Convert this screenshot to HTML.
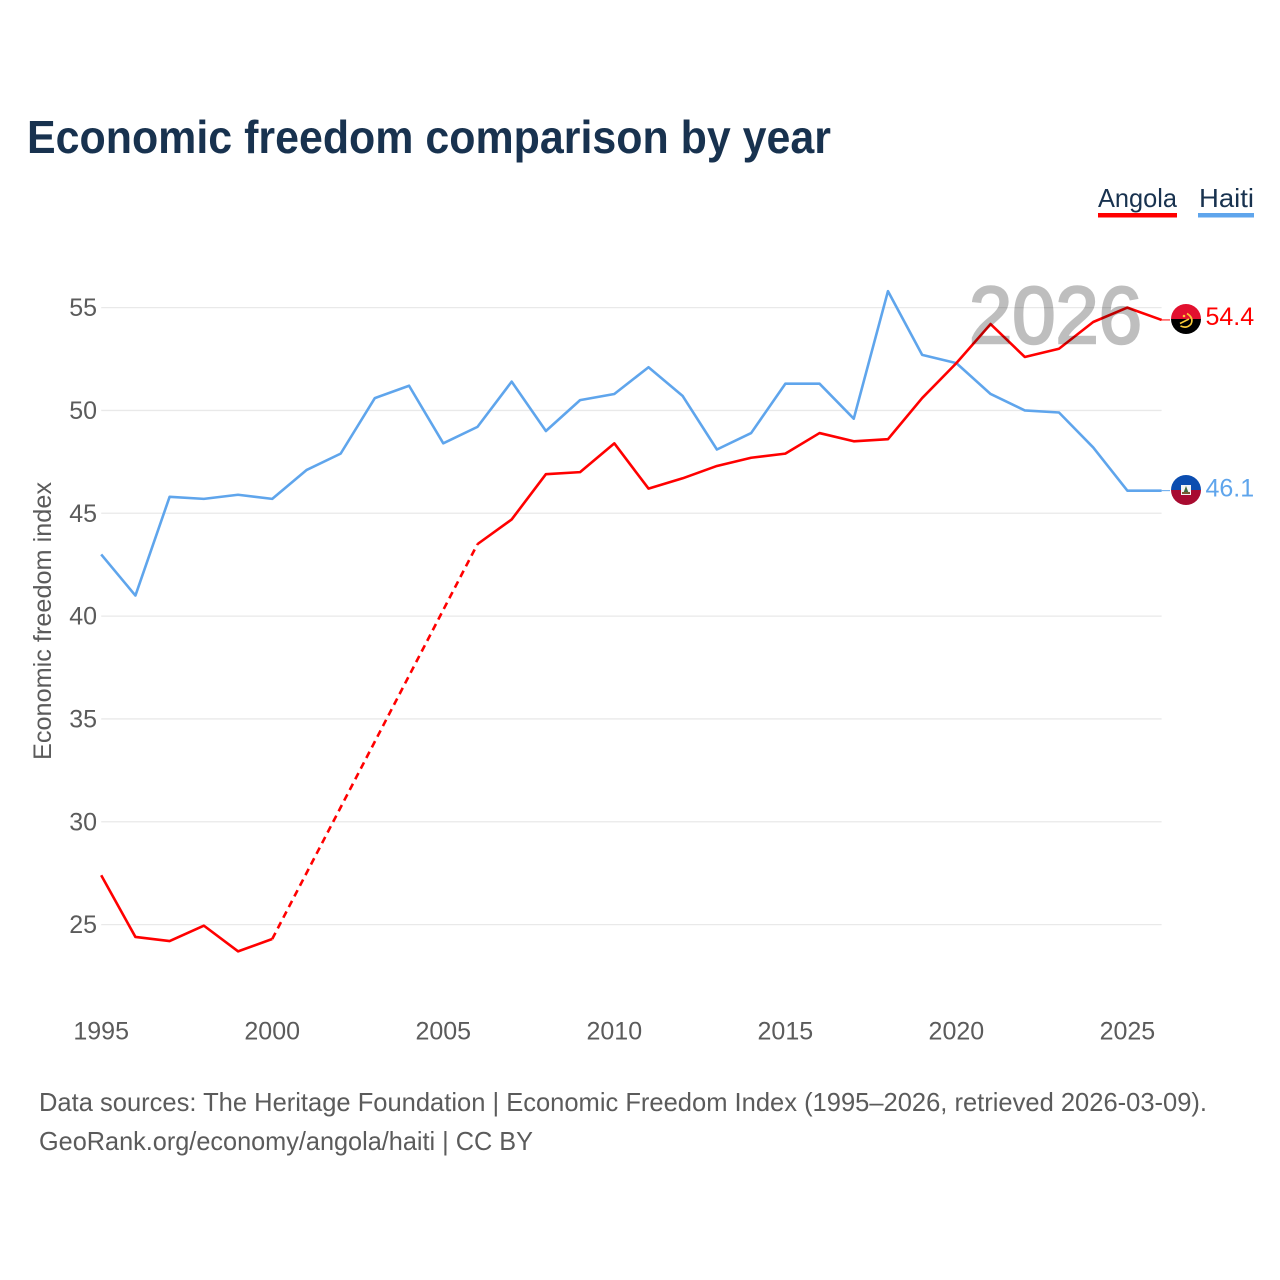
<!DOCTYPE html>
<html lang="en">
<head>
<meta charset="utf-8">
<title>Economic freedom comparison by year</title>
<style>
html,body{margin:0;padding:0;background:#fff;}
svg{display:block;font-family:"Liberation Sans",Arial,sans-serif;}
</style>
</head>
<body>
<svg id="chart" xmlns="http://www.w3.org/2000/svg" width="1280" height="1280" viewBox="0 0 1280 1280">
  <defs>
    <clipPath id="clip-angola"><circle cx="1186" cy="319" r="15"/></clipPath>
    <clipPath id="clip-haiti"><circle cx="1186" cy="490" r="15"/></clipPath>
  </defs>
  <rect x="0" y="0" width="1280" height="1280" fill="#ffffff"/>
  <text x="27" y="153" font-size="46" font-weight="700" fill="#18324f" textLength="804" lengthAdjust="spacingAndGlyphs">Economic freedom comparison by year</text>

  <g>
    <text x="1098" y="207" font-size="26" fill="#18324f" textLength="79" lengthAdjust="spacingAndGlyphs">Angola</text>
    <rect x="1098" y="213" width="79" height="4.5" fill="#ff0000"/>
  </g>
  <g>
    <text x="1199" y="207" font-size="26" fill="#18324f" textLength="55" lengthAdjust="spacingAndGlyphs">Haiti</text>
    <rect x="1198" y="213" width="56" height="4.5" fill="#5fa5ec"/>
  </g>

  <g id="grid"></g>
  <g id="y-ticks"></g>
  <g id="x-ticks"></g>
  <text transform="translate(51,621) rotate(-90)" text-anchor="middle" font-size="25" fill="#5b5b5b" textLength="278" lengthAdjust="spacingAndGlyphs">Economic freedom index</text>

  <g id="series"></g>

  <text x="969" y="343" font-size="81" fill="#000000" stroke="#000000" stroke-width="2.4" opacity="0.25" textLength="173" lengthAdjust="spacingAndGlyphs">2026</text>

  <g clip-path="url(#clip-angola)">
    <rect x="1171" y="304" width="30" height="15" fill="#e2102f"/>
    <rect x="1171" y="319" width="30" height="15" fill="#000000"/>
    <path d="M1180.5 326 Q1187 329 1191 324 Q1194 318 1187 313.5" fill="none" stroke="#f9cb38" stroke-width="1.7"/>
    <path d="M1180 323.5 L1189 319" stroke="#f9cb38" stroke-width="1.6" fill="none"/>
    <circle cx="1184" cy="316" r="1.3" fill="#f9cb38"/>
  </g>
  <g clip-path="url(#clip-haiti)">
    <rect x="1171" y="475" width="30" height="15" fill="#0b4db0"/>
    <rect x="1171" y="490" width="30" height="15" fill="#a80b30"/>
    <rect x="1181" y="485" width="10" height="10" fill="#f4f4f4"/>
    <path d="M1183 494 L1186 486 L1189 494 Z" fill="#3f6b3c"/>
    <rect x="1182" y="492" width="8" height="2" fill="#7a5a32"/>
  </g>
  <text x="1205.5" y="325" font-size="25" fill="#ff0000">54.4</text>
  <text x="1205.5" y="496.5" font-size="25" fill="#5fa5ec">46.1</text>

  <text x="39" y="1111" font-size="26" fill="#5b5b5b" textLength="1168" lengthAdjust="spacingAndGlyphs">Data sources: The Heritage Foundation | Economic Freedom Index (1995–2026, retrieved 2026-03-09).</text>
  <text x="39" y="1150" font-size="26" fill="#5b5b5b" textLength="494" lengthAdjust="spacingAndGlyphs">GeoRank.org/economy/angola/haiti | CC BY</text>
</svg>
<script>
const years = [1995,1996,1997,1998,1999,2000,2001,2002,2003,2004,2005,2006,2007,2008,2009,2010,2011,2012,2013,2014,2015,2016,2017,2018,2019,2020,2021,2022,2023,2024,2025,2026];
const angolaValues = [27.4,24.4,24.2,24.95,23.7,24.3,null,null,null,null,null,43.5,44.7,46.9,47.0,48.4,46.2,46.7,47.3,47.7,47.9,48.9,48.5,48.6,50.6,52.3,54.2,52.6,53.0,54.3,55.0,54.4];
const haitiValues = [43.0,41.0,45.8,45.7,45.9,45.7,47.1,47.9,50.6,51.2,48.4,49.2,51.4,49.0,50.5,50.8,52.1,50.7,48.1,48.9,51.3,51.3,49.6,55.8,52.7,52.3,50.8,50.0,49.9,48.2,46.1,46.1];
const yTickValues = [25,30,35,40,45,50,55];
const xTickValues = [1995,2000,2005,2010,2015,2020,2025];

const NS = 'http://www.w3.org/2000/svg';
const xScale = function (year) { return 101.2 + (year - 1995) * (1127.4 - 101.2) / 30; };
const yScale = function (value) { return 924.6 - (value - 25) * (924.6 - 307.6) / 30; };

function make(tag, parent) {
  const el = document.createElementNS(NS, tag);
  parent.appendChild(el);
  return el;
}

const gridGroup = document.getElementById('grid');
const yTickGroup = document.getElementById('y-ticks');
const xTickGroup = document.getElementById('x-ticks');
const seriesGroup = document.getElementById('series');

yTickValues.forEach(function (tick) {
  const line = make('line', gridGroup);
  
  
  line.setAttribute('x1', xScale(1995));
  line.setAttribute('x2', xScale(2026));
  line.setAttribute('y1', yScale(tick));
  line.setAttribute('y2', yScale(tick));
  line.setAttribute('stroke', '#e9e9e9');
  line.setAttribute('stroke-width', '1.3');

  const label = make('text', yTickGroup);
  
  
  label.setAttribute('x', 97);
  label.setAttribute('y', yScale(tick) + 8.5);
  label.setAttribute('text-anchor', 'end');
  label.setAttribute('font-size', '25');
  label.setAttribute('fill', '#5b5b5b');
  label.textContent = String(tick);
});

xTickValues.forEach(function (tick) {
  const label = make('text', xTickGroup);
  
  
  label.setAttribute('x', xScale(tick));
  label.setAttribute('y', 1039.5);
  label.setAttribute('text-anchor', 'middle');
  label.setAttribute('font-size', '25');
  label.setAttribute('fill', '#5b5b5b');
  label.textContent = String(tick);
});

function drawSeries(values, color, seriesName) {
  let solid = '';
  let dashed = '';
  let prevIndex = -1;
  values.forEach(function (value, i) {
    if (value === null) { return; }
    const point = xScale(years[i]).toFixed(2) + ',' + yScale(value).toFixed(2);
    if (prevIndex === -1 || prevIndex !== i - 1) {
      if (prevIndex !== -1) {
        dashed += 'M' + xScale(years[prevIndex]).toFixed(2) + ',' + yScale(values[prevIndex]).toFixed(2) + 'L' + point;
      }
      solid += 'M' + point;
    } else {
      solid += 'L' + point;
    }
    prevIndex = i;
  });

  const solidPath = make('path', seriesGroup);
  
  
  solidPath.setAttribute('d', solid);
  solidPath.setAttribute('fill', 'none');
  solidPath.setAttribute('stroke', color);
  solidPath.setAttribute('stroke-width', '2.6');
  solidPath.setAttribute('stroke-linejoin', 'round');

  if (dashed) {
    const dashedPath = make('path', seriesGroup);
    
    
    dashedPath.setAttribute('d', dashed);
    dashedPath.setAttribute('fill', 'none');
    dashedPath.setAttribute('stroke', color);
    dashedPath.setAttribute('stroke-width', '2.6');
    dashedPath.setAttribute('stroke-dasharray', '7 5');
  }

  const lastIndex = values.length - 1;
  const connector = make('line', seriesGroup);
  
  
  connector.setAttribute('x1', xScale(years[lastIndex]));
  connector.setAttribute('x2', 1170);
  connector.setAttribute('y1', yScale(values[lastIndex]));
  connector.setAttribute('y2', yScale(values[lastIndex]));
  connector.setAttribute('stroke', color);
  connector.setAttribute('stroke-width', '1');
}

drawSeries(haitiValues, '#5fa5ec', 'haiti');
drawSeries(angolaValues, '#ff0000', 'angola');
</script>
</body>
</html>
